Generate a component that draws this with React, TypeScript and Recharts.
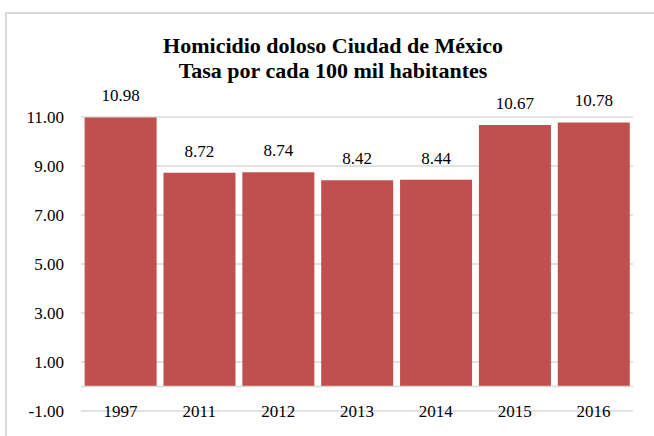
import React from 'react';
import { BarChart, Bar, XAxis, YAxis, CartesianGrid, LabelList, ReferenceLine } from 'recharts';

// Datos: tasa de homicidio doloso por cada 100 mil habitantes
const years = ['1997', '2011', '2012', '2013', '2014', '2015', '2016'];
const rates = [10.98, 8.72, 8.74, 8.42, 8.44, 10.67, 10.78];
const yTicks = [-1, 1, 3, 5, 7, 9, 11];

const titleLines = ['Homicidio doloso Ciudad de México', 'Tasa por cada 100 mil habitantes'];

const data = years.map((year, i) => ({ year, rate: rates[i] }));

const FONT = "'Liberation Serif', 'Times New Roman', serif";
const GRID = '#d9d9d9';
const textStyle = { fontFamily: FONT, fontSize: 17, fill: '#000' };

// etiquetas del eje X sobre la línea de -1.00
const renderXTick = (props: any) => {
  const { x, y, payload } = props;
  return (
    <text x={x} y={y + 6} textAnchor="middle" style={textStyle}>
      {payload.value}
    </text>
  );
};

const renderYTick = (props: any) => {
  const { x, y, payload } = props;
  return (
    <text x={x} y={y + 6} textAnchor="end" style={textStyle}>
      {Number(payload.value).toFixed(2)}
    </text>
  );
};

// valor encima de cada barra
const renderLabel = (props: any) => {
  const { x, y, width, value } = props;
  return (
    <text x={Number(x) + Number(width) / 2} y={Number(y) - 16} textAnchor="middle" style={textStyle}>
      {Number(value).toFixed(2)}
    </text>
  );
};

const App: React.FC = () => {
  return (
    <div style={{ position: 'fixed', left: 0, top: 0, width: 654, height: 436, overflow: 'hidden', background: '#fff', fontFamily: FONT }}>
      <div
        style={{
          position: 'absolute',
          left: 5,
          top: 12,
          width: 700,
          height: 500,
          border: `2px solid ${GRID}`,
          boxSizing: 'border-box',
        }}
      />
      <div style={{ position: 'absolute', left: 0, top: 0 }}>
        <BarChart
          width={654}
          height={436}
          data={data}
          margin={{ top: 117, right: 21, bottom: 0, left: 11 }}
          barCategoryGap="4.6%"
          style={{ fontFamily: FONT }}
        >
          <text x={333} y={53} textAnchor="middle" style={{ ...textStyle, fontSize: 22, fontWeight: 'bold' }}>
            {titleLines[0]}
          </text>
          <text x={333} y={78} textAnchor="middle" style={{ ...textStyle, fontSize: 22, fontWeight: 'bold' }}>
            {titleLines[1]}
          </text>
          <CartesianGrid vertical={false} stroke={GRID} strokeWidth={1.5} />
          <XAxis
            dataKey="year"
            height={25}
            axisLine={false}
            tickLine={false}
            tickSize={0}
            tickMargin={0}
            tick={renderXTick}
            interval={0}
          />
          <YAxis
            type="number"
            domain={[-1, 11]}
            ticks={yTicks}
            width={70}
            axisLine={false}
            tickLine={false}
            tickSize={0}
            tickMargin={17}
            tick={renderYTick}
          />
          <ReferenceLine y={0} stroke={GRID} strokeWidth={1.5} />
          <Bar dataKey="rate" fill="#C0504D" isAnimationActive={false}>
            <LabelList dataKey="rate" content={renderLabel} />
          </Bar>
        </BarChart>
      </div>
    </div>
  );
};

export default App;
